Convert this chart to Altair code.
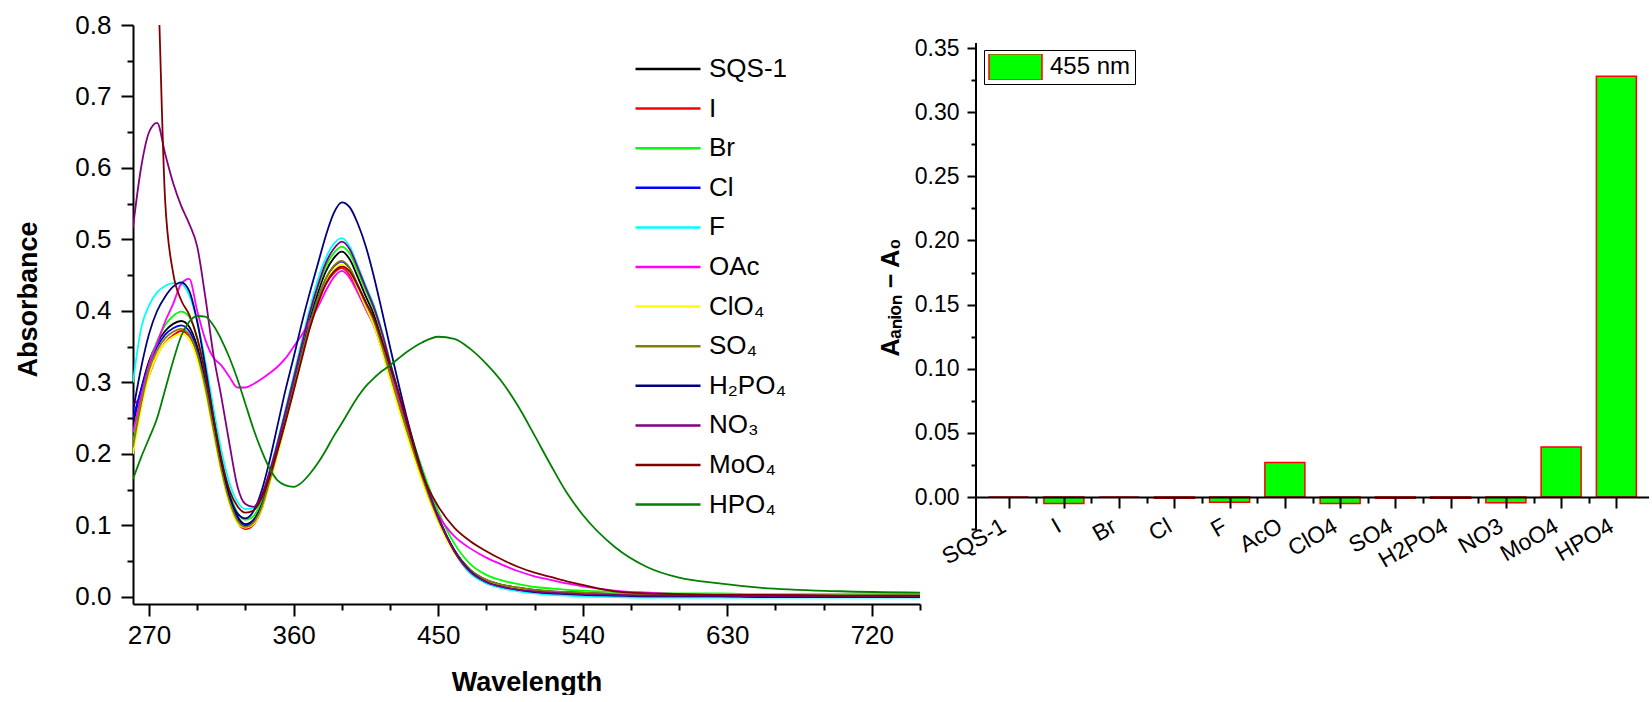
import json
import altair as alt
import pandas as pd

FONT = "Liberation Sans"

# ---------------- spectra (left panel) ----------------
wavelength = [260, 265, 270, 275, 280, 285, 290, 295, 300, 305, 310, 315, 320, 325, 330,
              335, 340, 345, 350, 355, 360, 365, 370, 375, 380, 385, 390, 395, 400, 405,
              410, 415, 420, 430, 440, 450, 460, 470, 480, 490, 500, 510, 520, 530, 540,
              560, 580, 600, 625, 650, 700, 750]

abs_sqs1 = [0.240, 0.290, 0.330, 0.355, 0.372, 0.382, 0.386, 0.378, 0.350, 0.303, 0.245, 0.187, 0.142, 0.113, 0.102,
            0.108, 0.130, 0.168, 0.210, 0.255, 0.300, 0.345, 0.390, 0.425, 0.455, 0.474, 0.483, 0.472, 0.447, 0.420,
            0.395, 0.360, 0.320,
            0.243, 0.172, 0.112, 0.066, 0.038, 0.024, 0.017, 0.013, 0.010, 0.008, 0.007, 0.006,
            0.004, 0.003, 0.003, 0.003, 0.002, 0.002, 0.002]
abs_i = [0.270, 0.280, 0.310, 0.338, 0.356, 0.366, 0.372, 0.365, 0.338, 0.292, 0.235, 0.178, 0.133, 0.105, 0.095,
         0.101, 0.122, 0.160, 0.202, 0.247, 0.292, 0.336, 0.378, 0.410, 0.437, 0.453, 0.460, 0.450, 0.428, 0.403,
         0.380, 0.346, 0.308,
         0.234, 0.166, 0.108, 0.064, 0.037, 0.023, 0.016, 0.012, 0.009, 0.007, 0.006, 0.005,
         0.004, 0.003, 0.002, 0.002, 0.002, 0.001, 0.001]
abs_br = [0.215, 0.275, 0.325, 0.358, 0.380, 0.393, 0.399, 0.392, 0.362, 0.313, 0.252, 0.192, 0.146, 0.118, 0.108,
          0.113, 0.135, 0.172, 0.214, 0.259, 0.304, 0.350, 0.395, 0.432, 0.462, 0.481, 0.490, 0.480, 0.455, 0.428,
          0.402, 0.367, 0.327,
          0.250, 0.180, 0.120, 0.075, 0.046, 0.031, 0.023, 0.018, 0.014, 0.012, 0.010, 0.009,
          0.007, 0.006, 0.005, 0.005, 0.004, 0.004, 0.004]
abs_cl = [0.250, 0.290, 0.325, 0.350, 0.367, 0.376, 0.380, 0.372, 0.344, 0.298, 0.241, 0.183, 0.139, 0.110, 0.100,
          0.106, 0.127, 0.165, 0.207, 0.251, 0.296, 0.340, 0.383, 0.417, 0.445, 0.462, 0.469, 0.459, 0.436, 0.411,
          0.387, 0.353, 0.314,
          0.238, 0.168, 0.109, 0.064, 0.036, 0.022, 0.015, 0.011, 0.008, 0.006, 0.005, 0.004,
          0.003, 0.002, 0.002, 0.001, 0.001, 0.001, 0.001]
abs_f = [0.300, 0.375, 0.408, 0.426, 0.435, 0.439, 0.438, 0.422, 0.385, 0.330, 0.265, 0.205, 0.160, 0.133, 0.123,
         0.124, 0.140, 0.175, 0.218, 0.263, 0.310, 0.357, 0.403, 0.443, 0.474, 0.494, 0.502, 0.490, 0.463, 0.435,
         0.408, 0.372, 0.330,
         0.250, 0.175, 0.112, 0.063, 0.033, 0.019, 0.012, 0.008, 0.005, 0.003, 0.002, 0.001,
         0.000, -0.001, -0.001, -0.001, -0.001, -0.001, -0.001]
abs_oac = [0.230, 0.280, 0.325, 0.355, 0.385, 0.410, 0.438, 0.445, 0.400, 0.360, 0.335, 0.324, 0.308, 0.293, 0.293,
           0.298, 0.305, 0.313, 0.322, 0.334, 0.350, 0.366, 0.385, 0.405, 0.428, 0.447, 0.456, 0.446, 0.425, 0.402,
           0.380, 0.350, 0.315,
           0.245, 0.165, 0.115, 0.085, 0.068, 0.055, 0.045, 0.036, 0.029, 0.024, 0.019, 0.015,
           0.009, 0.006, 0.004, 0.003, 0.003, 0.002, 0.002]
abs_clo4 = [0.200, 0.262, 0.310, 0.338, 0.355, 0.364, 0.368, 0.360, 0.333, 0.288, 0.231, 0.175, 0.131, 0.104, 0.097,
            0.102, 0.122, 0.158, 0.199, 0.243, 0.288, 0.333, 0.376, 0.410, 0.440, 0.458, 0.465, 0.455, 0.431, 0.405,
            0.380, 0.345, 0.305,
            0.230, 0.162, 0.105, 0.062, 0.036, 0.023, 0.016, 0.012, 0.009, 0.007, 0.006, 0.005,
            0.004, 0.003, 0.003, 0.002, 0.002, 0.002, 0.002]
abs_so4 = [0.210, 0.270, 0.318, 0.345, 0.362, 0.371, 0.375, 0.367, 0.340, 0.294, 0.236, 0.179, 0.135, 0.107, 0.098,
           0.104, 0.125, 0.162, 0.204, 0.248, 0.293, 0.338, 0.381, 0.416, 0.445, 0.463, 0.470, 0.460, 0.436, 0.410,
           0.386, 0.351, 0.312,
           0.237, 0.168, 0.109, 0.065, 0.038, 0.024, 0.017, 0.013, 0.010, 0.008, 0.007, 0.006,
           0.004, 0.003, 0.003, 0.003, 0.002, 0.002, 0.002]
abs_h2po4 = [0.260, 0.320, 0.368, 0.400, 0.420, 0.434, 0.440, 0.428, 0.385, 0.322, 0.252, 0.190, 0.143, 0.117, 0.110,
             0.120, 0.148, 0.190, 0.240, 0.290, 0.335, 0.382, 0.425, 0.465, 0.505, 0.537, 0.552, 0.545, 0.522, 0.490,
             0.448, 0.400, 0.350,
             0.255, 0.175, 0.112, 0.065, 0.036, 0.021, 0.014, 0.010, 0.007, 0.005, 0.004, 0.003,
             0.002, 0.001, 0.001, 0.001, 0.000, 0.000, 0.000]
abs_no3 = [0.517, 0.600, 0.650, 0.663, 0.620, 0.579, 0.547, 0.522, 0.490, 0.420, 0.340, 0.280, 0.215, 0.155, 0.130,
           0.126, 0.142, 0.175, 0.215, 0.260, 0.305, 0.352, 0.397, 0.435, 0.467, 0.487, 0.497, 0.486, 0.460, 0.432,
           0.405, 0.370, 0.328,
           0.248, 0.174, 0.112, 0.064, 0.035, 0.021, 0.014, 0.010, 0.008, 0.006, 0.005, 0.004,
           0.003, 0.002, 0.002, 0.002, 0.001, 0.001, 0.001]
abs_moo4 = [1.600, 1.350, 1.100, 0.900, 0.555, 0.453, 0.415, 0.395, 0.362, 0.312, 0.252, 0.193, 0.150, 0.127, 0.118,
            0.121, 0.138, 0.168, 0.205, 0.245, 0.288, 0.332, 0.375, 0.410, 0.438, 0.455, 0.462, 0.455, 0.435, 0.412,
            0.390, 0.358, 0.325,
            0.250, 0.172, 0.127, 0.097, 0.078, 0.064, 0.052, 0.042, 0.034, 0.028, 0.022, 0.017,
            0.008, 0.005, 0.004, 0.003, 0.003, 0.002, 0.002]
abs_hpo4 = [0.165, 0.195, 0.222, 0.250, 0.290, 0.330, 0.365, 0.385, 0.393, 0.392, 0.380, 0.360, 0.335, 0.305, 0.270,
            0.235, 0.205, 0.180, 0.163, 0.156, 0.154, 0.160, 0.172, 0.187, 0.205, 0.225, 0.243, 0.262, 0.280, 0.295,
            0.306, 0.316, 0.324,
            0.342, 0.356, 0.364, 0.361, 0.347, 0.326, 0.300, 0.266, 0.226, 0.185, 0.146, 0.115,
            0.070, 0.042, 0.027, 0.019, 0.013, 0.008, 0.006]

series_names = ["SQS-1", "I", "Br", "Cl", "F", "OAc", "ClO₄", "SO₄", "H₂PO₄", "NO₃", "MoO₄", "HPO₄"]
series_colors = ["#000000", "#FF0000", "#00FF00", "#0000FF", "#00FFFF", "#FF00FF",
                 "#FFFF00", "#808000", "#000080", "#800080", "#800000", "#008000"]
series_values = [abs_sqs1, abs_i, abs_br, abs_cl, abs_f, abs_oac,
                 abs_clo4, abs_so4, abs_h2po4, abs_no3, abs_moo4, abs_hpo4]

# ---------------- bar panel ----------------
anion_labels = ["SQS-1", "I", "Br", "Cl", "F", "AcO", "ClO4", "SO4", "H2PO4", "NO3", "MoO4", "HPO4"]
delta_455 = [0.0, -0.005, 0.0, -0.001, -0.004, 0.027, -0.005, -0.001, -0.001, -0.0045, 0.039, 0.328]
band_label = "455 nm"

rows = []
for name, vals in zip(series_names, series_values):
    assert len(vals) == len(wavelength), name
    for w, a in zip(wavelength, vals):
        rows.append({"Wavelength": w, "Absorbance": a, "Series": name})
spec_df = pd.DataFrame(rows)

bar_df = pd.DataFrame({"Index": list(range(len(anion_labels))), "Anion": anion_labels,
                       "Delta": delta_455, "Band": band_label})


def cond(test, major, minor):
    return {"condition": {"test": test, "value": major}, "value": minor}


# ---------------- left chart ----------------
x_ticks = list(range(270, 751, 30))
y_ticks = [round(0.05 * k, 2) for k in range(17)]
x_major = "(datum.value - 270) % 90 === 0"
y_major = "abs(datum.value * 10 - round(datum.value * 10)) < 0.000001"

common_axis = dict(grid=False, tickWidth=2, tickColor="black", domainColor="black", domainWidth=2,
                   labelFont=FONT, labelColor="black", labelFlush=False, labelOverlap=False,
                   titleFont=FONT, titleColor="black", titleFontWeight="bold")

left_x_axis = alt.Axis(values=x_ticks, title="Wavelength",
                       labelExpr=f"{x_major} ? datum.label : ''",
                       tickSize=cond(x_major, 12, 6), labelFontSize=26, labelPadding=6,
                       titleFontSize=27, titleY=86, titleBaseline="alphabetic", **common_axis)
left_y_axis = alt.Axis(values=y_ticks, format=".1f", title="Absorbance",
                       labelExpr=f"{y_major} ? datum.label : ''",
                       tickSize=cond(y_major, 12, 6), labelFontSize=26, labelPadding=10,
                       titleFontSize=27, titleX=-97, titleY=274, titleBaseline="alphabetic", **common_axis)

left_legend = alt.Legend(title=None, orient="none", legendX=501, legendY=31,
                         symbolType="stroke", symbolSize=4225, symbolStrokeWidth=2.5, clipHeight=26,
                         rowPadding=13.6, labelFont=FONT, labelFontSize=26, labelColor="black",
                         labelOffset=7, padding=0, labelLimit=300)

left = alt.Chart(spec_df).mark_line(strokeWidth=1.8, clip=True, interpolate="monotone").encode(
    x=alt.X("Wavelength:Q", scale=alt.Scale(domain=[260, 750], nice=False, zero=False), axis=left_x_axis),
    y=alt.Y("Absorbance:Q", scale=alt.Scale(domain=[-0.0098, 0.8], nice=False, zero=False), axis=left_y_axis),
    color=alt.Color("Series:N", scale=alt.Scale(domain=series_names, range=series_colors), legend=left_legend),
).properties(width=787, height=579)

# ---------------- right chart ----------------
r_height = 505
y_min_r, y_top_r, y_max_r = -0.0257, 0.354, 0.368
x_axis_offset = -r_height * (0 - y_min_r) / (y_max_r - y_min_r)

ry_ticks = [round(-0.025 + 0.025 * k, 3) for k in range(16)]
ry_major = "abs(datum.value * 20 - round(datum.value * 20)) < 0.000001"
bx_ticks = [k * 0.5 for k in range(2 * len(anion_labels) - 1)]
bx_major = "datum.value % 1 === 0"
label_array = json.dumps(anion_labels)

right_x_axis = alt.Axis(values=bx_ticks, title=None,
                        labelExpr=f"{bx_major} ? {label_array}[datum.value] : ''",
                        tickSize=cond(bx_major, 11, 6), offset=x_axis_offset, zindex=1,
                        labelAngle=330, labelAlign="right", labelBaseline="middle",
                        labelFontSize=23, labelPadding=16, labelOffset=-5, **common_axis)
right_y_axis = alt.Axis(values=ry_ticks, format=".2f", title="Aₐₙᵢₒₙ − A₀", domain=False,
                        labelExpr=f"datum.value < 0 ? '' : ({ry_major} ? datum.label : '')",
                        tickSize=cond(ry_major, 9, 5), labelFontSize=23, labelPadding=8,
                        titleFontSize=25, titleX=-78, titleY=272, titleBaseline="alphabetic",
                        **common_axis)
right_y_scale = alt.Scale(domain=[y_min_r, y_max_r], nice=False, zero=False)

right_legend = alt.Legend(title=None, orient="none", legendX=8, legendY=25,
                          symbolType="M-1,-0.5H1V0.5H-1Z", symbolSize=2809,
                          symbolStrokeColor="#FF0000", symbolStrokeWidth=1.5, clipHeight=26,
                          labelFont=FONT, labelFontSize=24, labelColor="black", labelOffset=7,
                          padding=4, strokeColor="black", fillColor="white", cornerRadius=0)

bars = alt.Chart(bar_df).mark_bar(size=40, stroke="#FF0000", strokeWidth=1.5).encode(
    x=alt.X("Index:Q", scale=alt.Scale(domain=[-0.5, len(anion_labels) - 0.5], nice=False, zero=False),
            axis=right_x_axis),
    y=alt.Y("Delta:Q", scale=right_y_scale, axis=right_y_axis),
    fill=alt.Fill("Band:N", scale=alt.Scale(domain=[band_label], range=["#00FF00"]), legend=right_legend),
)

axis_df = pd.DataFrame({"Delta": [y_min_r], "Delta2": [y_top_r]})
axis_line = alt.Chart(axis_df).mark_rule(color="black", strokeWidth=2).encode(
    x=alt.value(0),
    y=alt.Y("Delta:Q", scale=right_y_scale, axis=right_y_axis),
    y2="Delta2:Q",
)

right = alt.layer(bars, axis_line).properties(width=673, height=r_height)

chart = alt.hconcat(left, right, spacing=56, bounds="flush").resolve_scale(
    color="independent", fill="independent"
).configure(
    padding={"left": 14, "top": 12, "right": 0, "bottom": 0}, font=FONT
).configure_view(stroke=None)

chart.save("out.html", embed_options={"renderer": "svg", "actions": False})
